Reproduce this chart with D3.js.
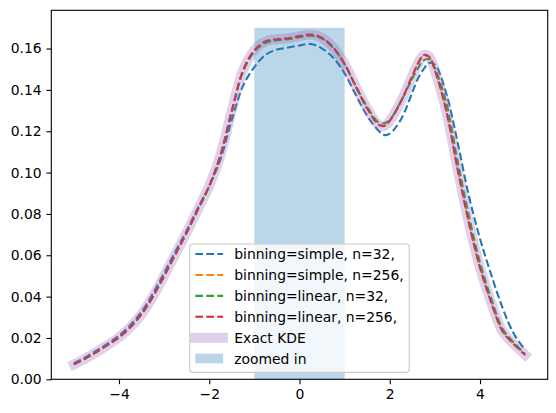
<!DOCTYPE html>
<html>
<head>
<meta charset="utf-8">
<script src="https://cdn.jsdelivr.net/npm/d3@7"></script>
<style>
  body { margin: 0; background: #fff; }
  svg { display: block; }
  text { font-family: "DejaVu Sans", sans-serif; }
</style>
</head>
<body>
<svg id="chart"></svg>
<script>
var xGrid = [-5, -4.75, -4.5, -4.25, -4, -3.75, -3.5, -3.25, -3, -2.75, -2.5, -2.25, -2, -1.75, -1.5, -1.25,
  -1, -0.75, -0.5, -0.25, 0, 0.25, 0.5, 0.75, 1, 1.25, 1.5, 1.75, 1.875, 2, 2.25, 2.5, 2.625, 2.75, 2.875, 3,
  3.25, 3.5, 3.75, 4, 4.25, 4.5, 4.75, 5];

var simple32 = [0.0078, 0.0106, 0.0139, 0.0173, 0.0212, 0.0262, 0.0327, 0.0414, 0.0515, 0.0618, 0.0720, 0.0830,
  0.0935, 0.1065, 0.1255, 0.1420, 0.1510, 0.1570, 0.1595, 0.1605, 0.1615, 0.1622, 0.1600, 0.1555, 0.1480,
  0.1375, 0.1275, 0.1203, 0.1182, 0.1188, 0.1258, 0.1388, 0.1455, 0.1500, 0.1530, 0.1522, 0.1385, 0.1150,
  0.0890, 0.0680, 0.0505, 0.0345, 0.0220, 0.0142];
var simple256 = [0.0072, 0.0100, 0.0132, 0.0166, 0.0203, 0.0252, 0.0315, 0.0400, 0.0500, 0.0605, 0.0710, 0.0822,
  0.0935, 0.1085, 0.1298, 0.1492, 0.1589, 0.1632, 0.1642, 0.1647, 0.1657, 0.1665, 0.1650, 0.1603, 0.1523,
  0.1414, 0.1310, 0.1234, 0.1226, 0.1251, 0.1346, 0.1468, 0.1527, 0.1566, 0.1559, 0.1497, 0.1302, 0.1022,
  0.0762, 0.0542, 0.0372, 0.0234, 0.0171, 0.0119];
var linear32 = [0.0072, 0.0100, 0.0132, 0.0166, 0.0203, 0.0252, 0.0315, 0.0400, 0.0500, 0.0605, 0.0710, 0.0822,
  0.0935, 0.1083, 0.1295, 0.1488, 0.1585, 0.1628, 0.1640, 0.1645, 0.1655, 0.1662, 0.1648, 0.1602, 0.1525,
  0.1418, 0.1318, 0.1243, 0.1238, 0.1255, 0.1345, 0.1455, 0.1505, 0.1543, 0.1548, 0.1505, 0.1340, 0.1060,
  0.0795, 0.0565, 0.0390, 0.0245, 0.0178, 0.0122];
var linear256 = [0.0072, 0.0100, 0.0132, 0.0166, 0.0203, 0.0252, 0.0315, 0.0400, 0.0500, 0.0605, 0.0710, 0.0822,
  0.0935, 0.1085, 0.1300, 0.1495, 0.1592, 0.1635, 0.1645, 0.1650, 0.1660, 0.1668, 0.1652, 0.1605, 0.1525,
  0.1415, 0.1310, 0.1232, 0.1225, 0.1250, 0.1345, 0.1468, 0.1528, 0.1568, 0.1560, 0.1495, 0.1300, 0.1020,
  0.0760, 0.0540, 0.0370, 0.0232, 0.0170, 0.0118];
var exactKde = [0.0072, 0.0100, 0.0132, 0.0166, 0.0203, 0.0252, 0.0315, 0.0400, 0.0500, 0.0605, 0.0710, 0.0822,
  0.0935, 0.1085, 0.1300, 0.1495, 0.1592, 0.1635, 0.1645, 0.1650, 0.1660, 0.1668, 0.1652, 0.1605, 0.1525,
  0.1415, 0.1310, 0.1232, 0.1225, 0.1250, 0.1345, 0.1468, 0.1528, 0.1568, 0.1560, 0.1495, 0.1300, 0.1020,
  0.0760, 0.0540, 0.0370, 0.0232, 0.0170, 0.0118];

// the shaded "zoomed in" span
var zoomX = [-1, 1];
var zoomTop = 0.17;

var xTicks = [-4, -2, 0, 2, 4];
var yTicks = [0, 0.02, 0.04, 0.06, 0.08, 0.10, 0.12, 0.14, 0.16];

var dashedLabels = ["binning=simple, n=32,", "binning=simple, n=256,", "binning=linear, n=32,", "binning=linear, n=256,"];
var exactLabel = "Exact KDE";
var zoomLabel = "zoomed in";

var W = 556, H = 413;
// plot area edges (window.top is read-only, so no bare "top")
var axL = 51.3, axR = 547.7, axT = 10.3, axB = 379.3;
var fs = 13.9; // 10pt at 100 dpi

var svg = d3.select("#chart").attr("width", W).attr("height", H);

var x = d3.scaleLinear().domain([-5.5, 5.5]).range([axL, axR]);
var y = d3.scaleLinear().domain([0, 0.1785]).range([axB, axT]);

var palette = ["#1f77b4", "#ff7f0e", "#2ca02c", "#d62728"];
var dashedSeries = [simple32, simple256, linear32, linear256];

svg.append("clipPath").attr("id", "plotclip")
  .append("rect").attr("x", axL).attr("y", axT).attr("width", axR - axL).attr("height", axB - axT);

var plot = svg.append("g").attr("clip-path", "url(#plotclip)");

//the shaded span sits below the lines
plot.append("rect")
  .attr("x", x(zoomX[0]))
  .attr("y", y(zoomTop))
  .attr("width", x(zoomX[1]) - x(zoomX[0]))
  .attr("height", y(0) - y(zoomTop))
  .attr("fill", "#1f77b4")
  .attr("fill-opacity", 0.3);

var line = d3.line()
  .x(function(d) { return x(d[0]); })
  .y(function(d) { return y(d[1]); })
  .curve(d3.curveCatmullRom.alpha(0.5));

function pairs(vals) {
  return xGrid.map(function(v, i) { return [v, vals[i]]; });
}

dashedSeries.forEach(function(vals, i) {
  plot.append("path")
    .datum(pairs(vals))
    .attr("fill", "none")
    .attr("stroke", palette[i])
    .attr("stroke-width", 2.08)
    .attr("stroke-dasharray", "7.7,3.3")
    .attr("d", line);
});

plot.append("path")
  .datum(pairs(exactKde))
  .attr("fill", "none")
  .attr("stroke", "#9467bd")
  .attr("stroke-opacity", 0.3)
  .attr("stroke-width", 10)
  .attr("stroke-linecap", "square")
  .attr("d", line);

// axes
var minus = function(v, digits) {
  var s = d3.format("." + digits + "f")(Math.abs(v));
  return (v < 0 ? "\u2212" : "") + s;
};

var xAxis = svg.append("g")
  .attr("transform", "translate(0," + axB + ")")
  .call(d3.axisBottom(x).tickValues(xTicks).tickSize(4.86).tickPadding(4.86)
    .tickFormat(function(d) { return minus(d, 0); }));
xAxis.select(".domain").remove();

var yAxis = svg.append("g")
  .attr("transform", "translate(" + axL + ",0)")
  .call(d3.axisLeft(y).tickValues(yTicks).tickSize(4.86).tickPadding(4.86)
    .tickFormat(function(d) { return minus(d, 2); }));
yAxis.select(".domain").remove();

svg.selectAll(".tick line").attr("stroke", "#000").attr("stroke-width", 1.1);
svg.selectAll(".tick text")
  .attr("fill", "#000")
  .style("font-size", fs + "px")
  .style("font-family", "'DejaVu Sans', sans-serif");

svg.append("rect")
  .attr("x", axL).attr("y", axT)
  .attr("width", axR - axL).attr("height", axB - axT)
  .attr("fill", "none")
  .attr("stroke", "#000")
  .attr("stroke-width", 1.1);

// legend, lower center
var rowH = 20.9;
var pad = 0.4 * fs, handleLen = 2.0 * fs, textPad = 0.8 * fs;
var legend = svg.append("g");
var frame = legend.append("rect")
  .attr("fill", "#fff")
  .attr("fill-opacity", 0.8)
  .attr("stroke", "#cccccc")
  .attr("stroke-width", 1.1)
  .attr("rx", 3).attr("ry", 3);

var allLabels = dashedLabels.concat([exactLabel, zoomLabel]);
var items = legend.selectAll("g.item").data(allLabels).enter()
  .append("g").attr("class", "item");

var texts = items.append("text")
  .attr("fill", "#000")
  .style("font-size", fs + "px")
  .attr("dy", "0.36em")
  .text(function(d) { return d; });

var maxText = 0;
texts.each(function() { maxText = Math.max(maxText, this.getComputedTextLength()); });

var boxW = pad + handleLen + textPad + maxText + pad;
var boxH = 128.3;
var boxX = (axL + axR) / 2 - boxW / 2;
var boxY = axB - 0.5 * fs - boxH;
frame.attr("x", boxX).attr("y", boxY).attr("width", boxW).attr("height", boxH);

var hx0 = boxX + pad, hx1 = hx0 + handleLen;
var firstRow = boxY + 10;
items.attr("transform", function(d, i) { return "translate(0," + (firstRow + i * rowH) + ")"; });
texts.attr("x", hx1 + textPad);

items.filter(function(d, i) { return i < 4; })
  .append("line")
  .attr("x1", hx0).attr("x2", hx1)
  .attr("stroke", function(d, i) { return palette[i]; })
  .attr("stroke-width", 2.08)
  .attr("stroke-dasharray", "7.7,3.3");

items.filter(function(d, i) { return i == 4; })
  .append("line")
  .attr("x1", hx0).attr("x2", hx1)
  .attr("stroke", "#9467bd")
  .attr("stroke-opacity", 0.3)
  .attr("stroke-width", 10)
  .attr("stroke-linecap", "square");

items.filter(function(d, i) { return i == 5; })
  .append("rect")
  .attr("x", hx0).attr("y", -4.9)
  .attr("width", handleLen).attr("height", 9.7)
  .attr("fill", "#1f77b4")
  .attr("fill-opacity", 0.3);
</script>
</body>
</html>
